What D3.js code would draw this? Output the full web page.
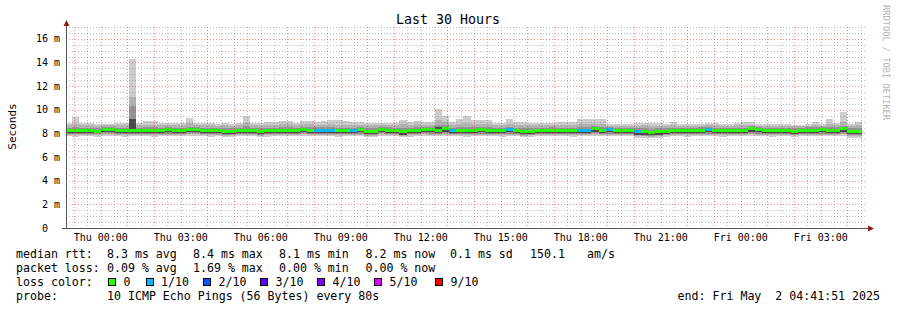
<!DOCTYPE html>
<meta charset="utf-8">
<style>
  body { margin: 0; background: #fff; }
  svg { display: block; }
  text { font-family: "DejaVu Sans Mono", monospace; white-space: pre; }
</style>
<body></body>
<script src="https://d3js.org/d3.v7.min.js"></script>
<script>

var width = 897,
    height = 310;

// time window and 16 minute consolidation steps
var windowStart = new Date(Date.UTC(2025, 3, 30, 22, 41, 51)),
    windowEnd = new Date(Date.UTC(2025, 4, 2, 4, 41, 51)),
    firstStep = new Date(Date.UTC(2025, 3, 30, 22, 40, 0)),
    stepMinutes = 16;

// median rtt per step (ms)
var median = [
  8.25,8.22,8.28,8.25,8.2,8.35,8.35,8.25,8.22,8.25,8.25,8.28,8.22,8.25,8.3,8.25,
  8.25,8.36,8.35,8.25,8.22,8.25,8.14,8.2,8.25,8.28,8.25,8.14,8.22,8.25,8.28,8.25,
  8.25,8.36,8.28,8.25,8.25,8.25,8.22,8.25,8.25,8.3,8.15,8.14,8.36,8.28,8.25,8.12,
  8.22,8.25,8.35,8.3,8.28,8.38,8.25,8.25,8.22,8.25,8.3,8.25,8.25,8.22,8.3,8.25,
  8.14,8.2,8.25,8.25,8.28,8.25,8.25,8.22,8.25,8.25,8.38,8.28,8.3,8.25,8.25,8.25,
  8.12,8.12,8.1,8.12,8.2,8.25,8.25,8.22,8.25,8.28,8.3,8.25,8.22,8.25,8.25,8.25,
  8.38,8.3,8.25,8.22,8.25,8.25,8.2,8.25,8.28,8.25,8.3,8.25,8.28,8.38,8.15,8.15
];

// lost pings out of 10 per step
var loss = [
  0,0,0,0,0,0,0,0,0,0,0,0,0,0,0,0,
  0,0,0,0,0,0,0,0,0,0,0,0,0,0,0,0,
  0,0,0,1,1,1,0,0,1,0,0,0,0,0,0,0,
  0,0,0,0,0,0,1,0,0,0,0,0,0,0,1,0,
  0,0,0,0,0,0,0,0,1,1,0,0,1,0,0,0,
  1,0,0,0,0,0,0,0,0,0,1,0,0,0,0,0,
  0,0,0,0,0,0,0,0,0,0,0,0,0,0,0,0
];

// sorted pings (smoke), highest first
var ping10 = [
  8.9,9.35,8.9,8.85,8.8,8.8,8.8,8.9,8.9,14.3,8.85,9.05,9.05,8.9,8.9,8.85,
  8.85,9.3,8.85,8.85,8.85,8.8,8.85,8.8,8.85,9.5,8.9,8.9,8.95,8.95,9.05,9.05,
  8.85,9.05,9.05,9.0,9.05,9.1,9.1,9.05,9.0,9.0,8.9,8.85,8.85,8.85,8.85,9.1,
  8.95,9.05,8.95,8.95,10.1,9.45,8.95,9.2,9.45,9.1,9.15,9.15,8.85,8.85,9.2,8.95,
  8.95,8.9,8.85,8.9,8.9,8.95,8.95,8.95,9.2,9.2,9.2,9.2,8.8,8.8,8.8,8.8,
  8.85,8.9,8.85,8.85,8.8,9.0,8.8,8.8,8.8,8.8,8.9,8.9,8.8,8.8,8.9,9.0,
  9.0,8.8,8.8,8.8,8.8,8.8,8.75,8.75,8.8,9.0,8.8,9.2,8.85,9.8,8.8,9.0
];
var ping9 = [
  8.7,8.8,8.7,8.68,8.65,8.7,8.68,8.7,8.7,11.05,8.68,8.75,8.75,8.7,8.7,8.68,
  8.68,8.85,8.7,8.68,8.68,8.65,8.68,8.65,8.7,8.9,8.72,8.7,8.72,8.72,8.78,8.78,
  8.68,8.78,8.78,8.75,8.75,8.78,8.75,8.72,8.72,8.72,8.7,8.68,8.68,8.68,8.68,8.8,
  8.72,8.78,8.72,8.72,9.1,9.0,8.72,8.8,8.9,8.78,8.8,8.8,8.68,8.68,8.8,8.72,
  8.7,8.7,8.68,8.7,8.7,8.72,8.72,8.72,8.8,8.8,8.8,8.8,8.65,8.65,8.65,8.65,
  8.65,8.68,8.65,8.65,8.65,8.75,8.65,8.65,8.65,8.65,8.7,8.7,8.65,8.65,8.7,8.75,
  8.75,8.65,8.65,8.65,8.65,8.65,8.62,8.62,8.65,8.75,8.65,8.8,8.68,8.95,8.65,8.75
];
var ping7 = [
  8.5,8.55,8.5,8.5,8.48,8.55,8.55,8.5,8.5,10.3,8.5,8.55,8.52,8.5,8.52,8.5,
  8.5,8.58,8.55,8.5,8.48,8.5,8.45,8.48,8.5,8.6,8.5,8.45,8.48,8.5,8.55,8.52,
  8.5,8.58,8.55,8.52,8.52,8.52,8.5,8.5,8.5,8.55,8.45,8.42,8.58,8.55,8.5,8.45,
  8.48,8.52,8.58,8.55,8.75,8.7,8.5,8.52,8.55,8.52,8.55,8.52,8.5,8.48,8.55,8.5,
  8.45,8.48,8.5,8.5,8.52,8.5,8.5,8.48,8.52,8.52,8.6,8.55,8.55,8.5,8.5,8.5,
  8.42,8.42,8.4,8.42,8.48,8.5,8.5,8.48,8.5,8.52,8.55,8.5,8.48,8.5,8.5,8.5,
  8.6,8.55,8.5,8.48,8.5,8.5,8.45,8.5,8.52,8.55,8.55,8.52,8.52,8.6,8.45,8.45
];
var ping6 = [
  8.35,8.32,8.38,8.35,8.3,8.45,8.45,8.35,8.32,9.23,8.35,8.38,8.32,8.35,8.4,8.35,
  8.35,8.46,8.45,8.35,8.32,8.35,8.24,8.3,8.35,8.38,8.35,8.24,8.32,8.35,8.38,8.35,
  8.35,8.46,8.38,8.35,8.35,8.35,8.32,8.35,8.35,8.4,8.25,8.24,8.46,8.38,8.35,8.22,
  8.32,8.35,8.45,8.4,8.55,8.5,8.35,8.35,8.32,8.35,8.4,8.35,8.35,8.32,8.4,8.35,
  8.24,8.3,8.35,8.35,8.38,8.35,8.35,8.32,8.35,8.35,8.48,8.38,8.4,8.35,8.35,8.35,
  8.22,8.22,8.2,8.22,8.3,8.35,8.35,8.32,8.35,8.38,8.4,8.35,8.32,8.35,8.35,8.35,
  8.48,8.4,8.35,8.32,8.35,8.35,8.3,8.35,8.38,8.35,8.4,8.35,8.38,8.48,8.25,8.25
];
var ping5 = [
  8.03,8.0,8.05,8.03,8.0,8.12,8.12,8.03,8.0,8.05,8.03,8.05,8.0,8.03,8.08,8.03,
  8.03,8.12,8.12,8.03,8.0,8.03,7.93,7.98,8.03,8.05,8.03,7.93,8.0,8.03,8.05,8.03,
  8.03,8.12,8.05,8.03,8.03,8.03,8.0,8.03,8.03,8.08,7.94,7.93,8.12,8.05,8.03,7.9,
  8.0,8.03,8.12,8.08,8.05,8.15,8.03,8.03,8.0,8.03,8.08,8.03,8.03,8.0,8.08,8.03,
  7.93,7.98,8.03,8.03,8.05,8.03,8.03,8.0,8.03,8.03,8.15,8.05,8.08,8.03,8.03,8.03,
  7.9,7.9,7.88,7.9,7.98,8.03,8.03,8.0,8.03,8.05,8.08,8.03,8.0,8.03,8.03,8.03,
  8.15,8.08,8.03,8.0,8.03,8.03,7.98,8.03,8.05,8.03,8.08,8.03,8.05,8.15,7.93,7.93
];
var ping4 = [
  7.95,7.93,7.97,7.95,7.92,8.02,8.02,7.95,7.93,7.95,7.95,7.97,7.92,7.95,7.98,7.95,
  7.95,8.02,8.02,7.95,7.93,7.95,7.86,7.9,7.95,7.97,7.95,7.86,7.92,7.95,7.97,7.95,
  7.95,8.02,7.97,7.95,7.95,7.95,7.92,7.95,7.95,7.98,7.87,7.86,8.02,7.97,7.95,7.84,
  7.92,7.95,8.02,7.98,7.97,8.04,7.95,7.95,7.92,7.95,7.98,7.95,7.95,7.92,7.98,7.95,
  7.86,7.9,7.95,7.95,7.97,7.95,7.95,7.92,7.95,7.95,8.04,7.97,7.98,7.95,7.95,7.95,
  7.84,7.82,7.8,7.84,7.9,7.95,7.95,7.92,7.95,7.97,7.98,7.95,7.92,7.95,7.95,7.95,
  8.04,7.98,7.95,7.92,7.95,7.95,7.9,7.95,7.97,7.95,7.98,7.95,7.97,8.04,7.85,7.85
];
var ping2 = [
  7.87,7.85,7.88,7.87,7.85,7.92,7.92,7.87,7.85,7.87,7.87,7.88,7.85,7.87,7.9,7.87,
  7.87,7.92,7.92,7.87,7.85,7.87,7.8,7.83,7.87,7.88,7.87,7.8,7.85,7.87,7.88,7.87,
  7.87,7.92,7.88,7.87,7.87,7.87,7.85,7.87,7.87,7.9,7.82,7.8,7.92,7.88,7.87,7.78,
  7.85,7.87,7.92,7.9,7.88,7.95,7.87,7.87,7.85,7.87,7.9,7.87,7.87,7.85,7.9,7.87,
  7.8,7.83,7.87,7.87,7.88,7.87,7.87,7.85,7.87,7.87,7.95,7.88,7.9,7.87,7.87,7.87,
  7.76,7.74,7.72,7.76,7.83,7.87,7.87,7.85,7.87,7.88,7.9,7.87,7.85,7.87,7.87,7.87,
  7.95,7.9,7.87,7.85,7.87,7.87,7.83,7.87,7.88,7.87,7.9,7.87,7.88,7.95,7.76,7.76
];
var ping1 = [
  7.75,7.73,7.77,7.75,7.72,7.8,7.8,7.75,7.73,7.75,7.75,7.77,7.72,7.75,7.78,7.75,
  7.75,7.8,7.8,7.75,7.73,7.75,7.68,7.7,7.75,7.76,7.75,7.68,7.72,7.75,7.76,7.75,
  7.75,7.8,7.76,7.75,7.75,7.75,7.72,7.75,7.75,7.78,7.7,7.68,7.8,7.76,7.75,7.66,
  7.72,7.75,7.8,7.78,7.76,7.82,7.75,7.75,7.72,7.75,7.78,7.75,7.75,7.72,7.78,7.75,
  7.68,7.7,7.75,7.75,7.76,7.75,7.75,7.72,7.75,7.75,7.82,7.76,7.78,7.75,7.75,7.75,
  7.64,7.62,7.6,7.64,7.7,7.75,7.75,7.72,7.75,7.76,7.78,7.75,7.72,7.75,7.75,7.75,
  7.82,7.78,7.75,7.72,7.75,7.75,7.7,7.75,7.76,7.75,7.78,7.75,7.76,7.82,7.64,7.64
];

var yTicks = [0, 2, 4, 6, 8, 10, 12, 14, 16],
    yTickLabels = ["0", "2 m", "4 m", "6 m", "8 m", "10 m", "12 m", "14 m", "16 m"];

var lossLevels = ["0", "1/10", "2/10", "3/10", "4/10", "5/10", "9/10"],
    lossColors = ["#26ff00", "#00b8ff", "#0059ff", "#5e00ff", "#7e00ff", "#dd00ff", "#ff0000"];

var statsRtt = ["median rtt:", "8.3 ms avg", "8.4 ms max", "8.1 ms min", "8.2 ms now", "0.1 ms sd", "150.1", "am/s"],
    statsLoss = ["packet loss:", "0.09 % avg", "1.69 % max", "0.00 % min", "0.00 % now"],
    probeText = ["probe:", "10 ICMP Echo Pings (56 Bytes) every 80s"],
    endText = "end: Fri May  2 04:41:51 2025";

// ---- layout (note: "top" would clash with window.top)
var plotLeft = 66, plotRight = 866, plotTop = 27, plotBottom = 228;

var x = d3.scaleUtc().domain([windowStart, windowEnd]).range([plotLeft, plotRight]);
var y = d3.scaleLinear().domain([0, 17]).range([plotBottom, plotTop]);

var svg = d3.select("body").append("svg")
    .attr("width", width)
    .attr("height", height);

svg.append("rect").attr("width", width).attr("height", height).attr("fill", "#fff");

svg.append("clipPath").attr("id", "plot")
  .append("rect")
    .attr("x", plotLeft).attr("y", plotTop)
    .attr("width", plotRight - plotLeft).attr("height", plotBottom - plotTop);

var steps = median.map(function(d, i) {
  var t0 = d3.utcMinute.offset(firstStep, i * stepMinutes),
      t1 = d3.utcMinute.offset(firstStep, (i + 1) * stepMinutes);
  return {i: i, x0: x(t0), x1: x(t1)};
});

var plot = svg.append("g").attr("clip-path", "url(#plot)").attr("shape-rendering", "crispEdges");

// smoke: pairs of sorted pings, lighter further from the median
var bands = [
  [ping1, ping10, "#cdcdcd"],
  [ping2, ping9, "#b2b2b2"],
  [ping4, ping7, "#959595"],
  [ping5, ping6, "#4a4a4a"]
];

bands.forEach(function(b) {
  plot.append("g").selectAll("rect")
      .data(steps)
    .enter().append("rect")
      .attr("x", function(d) { return d.x0; })
      .attr("width", function(d) { return d.x1 - d.x0; })
      .attr("y", function(d) { return y(b[1][d.i]); })
      .attr("height", function(d) { return y(b[0][d.i]) - y(b[1][d.i]); })
      .attr("fill", b[2]);
});

var lossColor = d3.scaleThreshold().domain([1, 2, 3, 4, 5, 9]).range(lossColors);

plot.append("g").selectAll("rect")
    .data(steps)
  .enter().append("rect")
    .attr("x", function(d) { return d.x0; })
    .attr("width", function(d) { return d.x1 - d.x0; })
    .attr("y", function(d) { return y(median[d.i]) - 1.5; })
    .attr("height", 3)
    .attr("fill", function(d) { return lossColor(loss[d.i]); });

// ---- grid (drawn on top, as rrdtool does)
var grid = svg.append("g").attr("shape-rendering", "crispEdges");
var minorColor = "rgba(110,110,110,0.45)", majorColor = "rgba(255,0,0,0.45)";

d3.utcMinute.every(30).range(windowStart, windowEnd).forEach(function(t) {
  var px = Math.round(x(t)) + 0.5;
  grid.append("line")
      .attr("x1", px).attr("x2", px)
      .attr("y1", plotTop).attr("y2", plotBottom)
      .attr("stroke", t.getUTCMinutes() === 0 ? majorColor : minorColor)
      .attr("stroke-dasharray", "1,2");
});

d3.range(1, 35).forEach(function(k) {
  var v = k / 2,
      py = Math.round(y(v)) + 0.5;
  grid.append("line")
      .attr("x1", plotLeft).attr("x2", plotRight)
      .attr("y1", py).attr("y2", py)
      .attr("stroke", v % 2 === 0 ? majorColor : minorColor)
      .attr("stroke-dasharray", "1,2");
});

// ---- axes
var axisColor = "#555", arrowColor = "#8e1c1c";

svg.append("line")
    .attr("x1", plotLeft + 0.5).attr("x2", plotLeft + 0.5)
    .attr("y1", plotBottom + 0.5).attr("y2", 24)
    .attr("stroke", axisColor);
svg.append("line")
    .attr("x1", 62).attr("x2", 869)
    .attr("y1", plotBottom + 0.5).attr("y2", plotBottom + 0.5)
    .attr("stroke", axisColor);
svg.append("path")
    .attr("d", "M63.5,26L69.5,26L66.5,20Z")
    .attr("fill", arrowColor);
svg.append("path")
    .attr("d", "M868,225.5L868,231.5L874,228.5Z")
    .attr("fill", arrowColor);

svg.append("g").selectAll("text")
    .data(yTicks)
  .enter().append("text")
    .attr("x", function(d) { return d === 0 ? 48 : 60; })
    .attr("y", function(d) { return y(d) + 3.5; })
    .attr("text-anchor", "end")
    .attr("font-size", "10px")
    .attr("fill", "#000")
    .text(function(d, i) { return yTickLabels[i]; });

var fmt = d3.utcFormat("%a %H:%M");
svg.append("g").selectAll("text")
    .data(d3.utcHour.every(3).range(windowStart, windowEnd))
  .enter().append("text")
    .attr("x", function(d) { return x(d); })
    .attr("y", 241)
    .attr("text-anchor", "middle")
    .attr("font-size", "10px")
    .attr("fill", "#000")
    .text(fmt);

// ---- titles
svg.append("text")
    .attr("x", 448).attr("y", 24)
    .attr("text-anchor", "middle")
    .attr("font-size", "13.3px")
    .attr("fill", "#000")
    .text("Last 30 Hours");

svg.append("text")
    .attr("transform", "translate(15.5,126.5) rotate(-90)")
    .attr("text-anchor", "middle")
    .attr("font-size", "11px")
    .attr("fill", "#000")
    .text("Seconds");

svg.append("text")
    .attr("transform", "translate(883,5) rotate(90)")
    .attr("font-size", "8.7px")
    .attr("fill", "#b4b4b4")
    .text("RRDTOOL / TOBI OETIKER");

// ---- legend
var legendFont = "11.6px",
    colX = [16, 107, 193, 279, 365.5, 450, 530, 587];

function legendLine(items, yy) {
  items.forEach(function(s, i) {
    svg.append("text")
        .attr("x", colX[i]).attr("y", yy)
        .attr("font-size", legendFont)
        .attr("fill", "#000")
        .text(s);
  });
}

legendLine(statsRtt, 257.5);
legendLine(statsLoss, 271.7);
legendLine(["loss color:"], 285.8);
legendLine(probeText, 300);

svg.append("text")
    .attr("x", 880).attr("y", 300)
    .attr("text-anchor", "end")
    .attr("font-size", legendFont)
    .attr("fill", "#000")
    .text(endText);

var boxX = [108.5, 146, 203.5, 260.5, 317.5, 374.5, 435.5];
lossLevels.forEach(function(l, i) {
  svg.append("rect")
      .attr("x", boxX[i]).attr("y", 278.5)
      .attr("width", 7).attr("height", 7)
      .attr("fill", lossColors[i])
      .attr("stroke", "#000")
      .attr("shape-rendering", "crispEdges");
  svg.append("text")
      .attr("x", boxX[i] + 15).attr("y", 285.8)
      .attr("font-size", legendFont)
      .attr("fill", "#000")
      .text(l);
});

</script>
